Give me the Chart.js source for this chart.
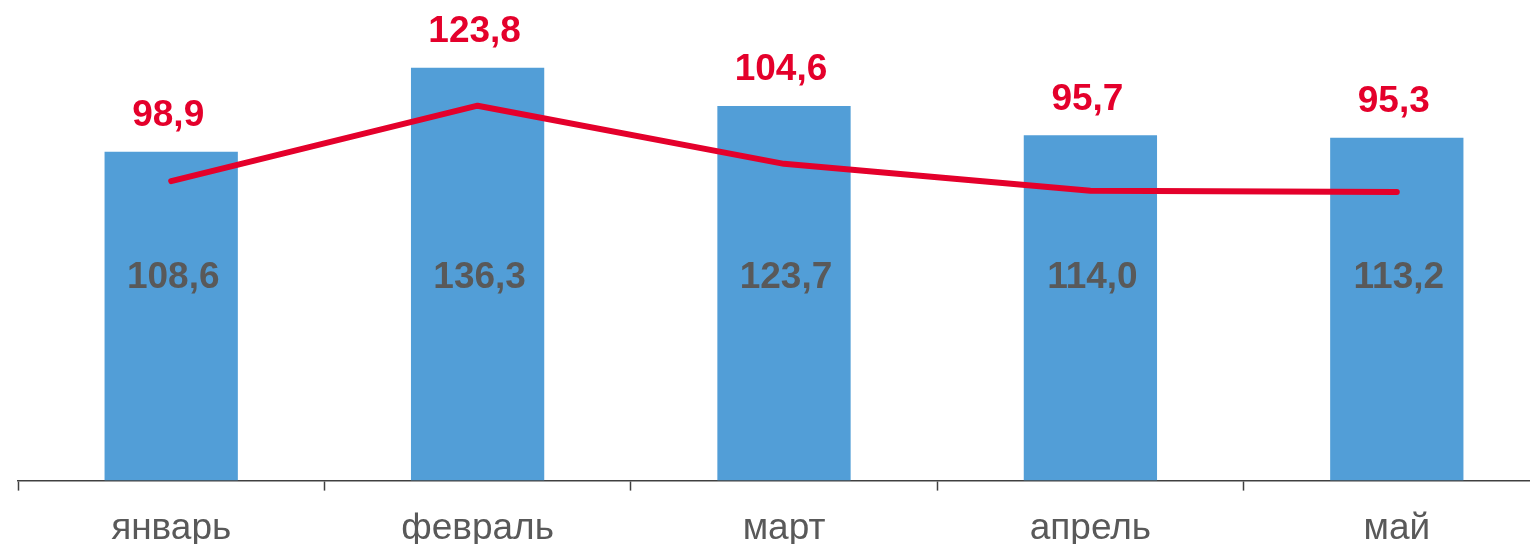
<!DOCTYPE html>
<html lang="ru">
<head>
    <meta charset="UTF-8">
    <title>Chart</title>
    <script src="https://cdn.jsdelivr.net/npm/chart.js"></script>
    <style>
        html, body { margin: 0; padding: 0; background: #fff; overflow: hidden; }
        #wrap { position: relative; width: 1550px; height: 567px; }
    </style>
</head>
<body>
    <div id="wrap">
        <canvas id="chart"></canvas>
    </div>

    <script>
        // данные
        const months = ["январь", "февраль", "март", "апрель", "май"];
        const barValues = [108.6, 136.3, 123.7, 114.0, 113.2];
        const lineValues = [98.9, 123.8, 104.6, 95.7, 95.3];

        const fmt = v => v.toFixed(1).replace(".", ",");

        // подписи значений
        const valueLabels = {
            id: "valueLabels",
            afterDatasetsDraw(chart) {
                const ctx = chart.ctx;
                const y = chart.scales.y;
                const bars = chart.getDatasetMeta(1).data;
                ctx.save();
                ctx.textAlign = "center";
                ctx.textBaseline = "middle";
                ctx.font = "bold 37px 'Liberation Sans', Arial, sans-serif";
                bars.forEach((bar, i) => {
                    ctx.fillStyle = "#595959";
                    ctx.fillText(fmt(barValues[i]), bar.x + 2, y.getPixelForValue(67));
                    ctx.fillStyle = "#e4002b";
                    ctx.fillText(fmt(lineValues[i]), bar.x - 3, bar.y - 36);
                });
                ctx.restore();
            }
        };

        new Chart("chart", {
            data: {
                labels: months,
                datasets: [{
                    type: "line",
                    data: lineValues,
                    borderColor: "#e4002b",
                    borderWidth: 6,
                    borderCapStyle: "round",
                    borderJoinStyle: "round",
                    pointRadius: 0,
                    tension: 0,
                    order: 0
                }, {
                    type: "bar",
                    data: barValues,
                    backgroundColor: "#529ed7",
                    categoryPercentage: 1,
                    barPercentage: 0.435,
                    order: 1
                }]
            },
            options: {
                responsive: true,
                maintainAspectRatio: false,
                animation: false,
                layout: { padding: { left: 18, top: 0, right: 0, bottom: 0 } },
                plugins: { legend: { display: false }, tooltip: { enabled: false } },
                scales: {
                    x: {
                        offset: true,
                        grid: {
                            offset: true,
                            drawOnChartArea: false,
                            tickLength: 10,
                            tickColor: "#404040",
                            tickWidth: 1.5
                        },
                        border: { color: "#404040", width: 1.5 },
                        ticks: {
                            color: "#595959",
                            padding: 16,
                            maxRotation: 0,
                            font: { family: "'Liberation Sans', Arial, sans-serif", size: 37 }
                        }
                    },
                    y: {
                        display: false,
                        min: 0,
                        max: 158.7
                    }
                }
            },
            plugins: [valueLabels]
        });
    </script>
</body>
</html>
